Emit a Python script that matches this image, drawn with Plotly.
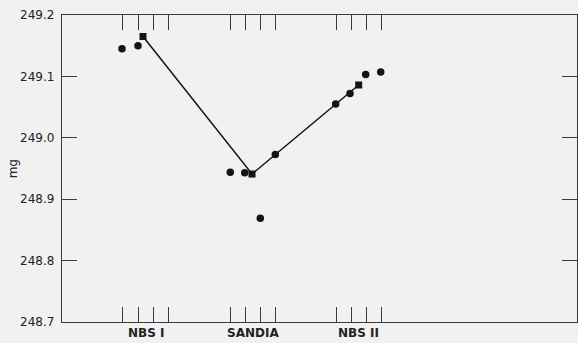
import plotly.graph_objects as go
import numpy as np

# Sample positions (horizontal measurement order) and mass readings (mg)
circle_x = [122, 138, 230.3, 244.7, 260.3, 275.3, 335.7, 350, 365.7, 380.7]
circle_y = [249.145, 249.150, 248.944, 248.943, 248.869, 248.973, 249.055, 249.072, 249.103, 249.107]
square_x = [143, 252, 358.7]
square_y = [249.165, 248.941, 249.086]

# Group tick positions and labels
group_ticks = [[122.5, 138, 153, 168.5], [230, 245, 260.5, 275], [336, 351, 366, 381.5]]
group_labels = ["NBS I", "SANDIA", "NBS II"]
y_ticks = [248.7, 248.8, 248.9, 249.0, 249.1, 249.2]
y_ticktext = ["248.7", "248.8", "248.9", "249.0", "249.1", "249.2"]

ink = "#141414"
frame = "#3a3a3a"
bg = "#f1f1f1"

fig = go.Figure()
fig.add_trace(go.Scatter(x=square_x, y=square_y, mode="lines+markers",
                         line=dict(color=ink, width=1.5),
                         marker=dict(symbol="square", size=7, color=ink),
                         showlegend=False, hoverinfo="skip"))
fig.add_trace(go.Scatter(x=circle_x, y=circle_y, mode="markers",
                         marker=dict(symbol="circle", size=7.5, color=ink),
                         showlegend=False, hoverinfo="skip"))

all_ticks = [t for g in group_ticks for t in g]
fig.update_layout(
    width=578, height=343,
    margin=dict(l=62, r=1, t=15, b=21),
    paper_bgcolor=bg, plot_bgcolor=bg,
    font=dict(family="DejaVu Sans", size=12, color="#222"),
    xaxis=dict(range=[62, 577], showgrid=False, zeroline=False,
               showline=True, linecolor=frame, linewidth=1.3, mirror="ticks",
               tickvals=all_ticks, ticks="inside", ticklen=15, tickwidth=1.2,
               tickcolor=frame, showticklabels=False),
    yaxis=dict(range=[248.7, 249.2], showgrid=False, zeroline=False,
               showline=True, linecolor=frame, linewidth=1.3, mirror="ticks",
               tickvals=y_ticks, ticktext=y_ticktext, ticks="inside",
               ticklen=15, tickwidth=1.2, tickcolor=frame, ticklabelstandoff=4,
               tickfont=dict(family="DejaVu Sans", size=12, color="#222")),
)

for g, lab in zip(group_ticks, group_labels):
    fig.add_annotation(x=float(np.mean(g)), y=0, xref="x", yref="paper",
                       text=lab, showarrow=False, yanchor="middle", yshift=-11,
                       font=dict(family="DejaVu Sans", size=12, color="#222", weight="bold"))

fig.add_annotation(x=-0.0955, y=0.5, xref="paper", yref="paper", text="mg",
                   textangle=-90, showarrow=False, xanchor="center", yanchor="middle",
                   font=dict(family="DejaVu Sans", size=12, color="#222"))

fig.write_html("out.html")
